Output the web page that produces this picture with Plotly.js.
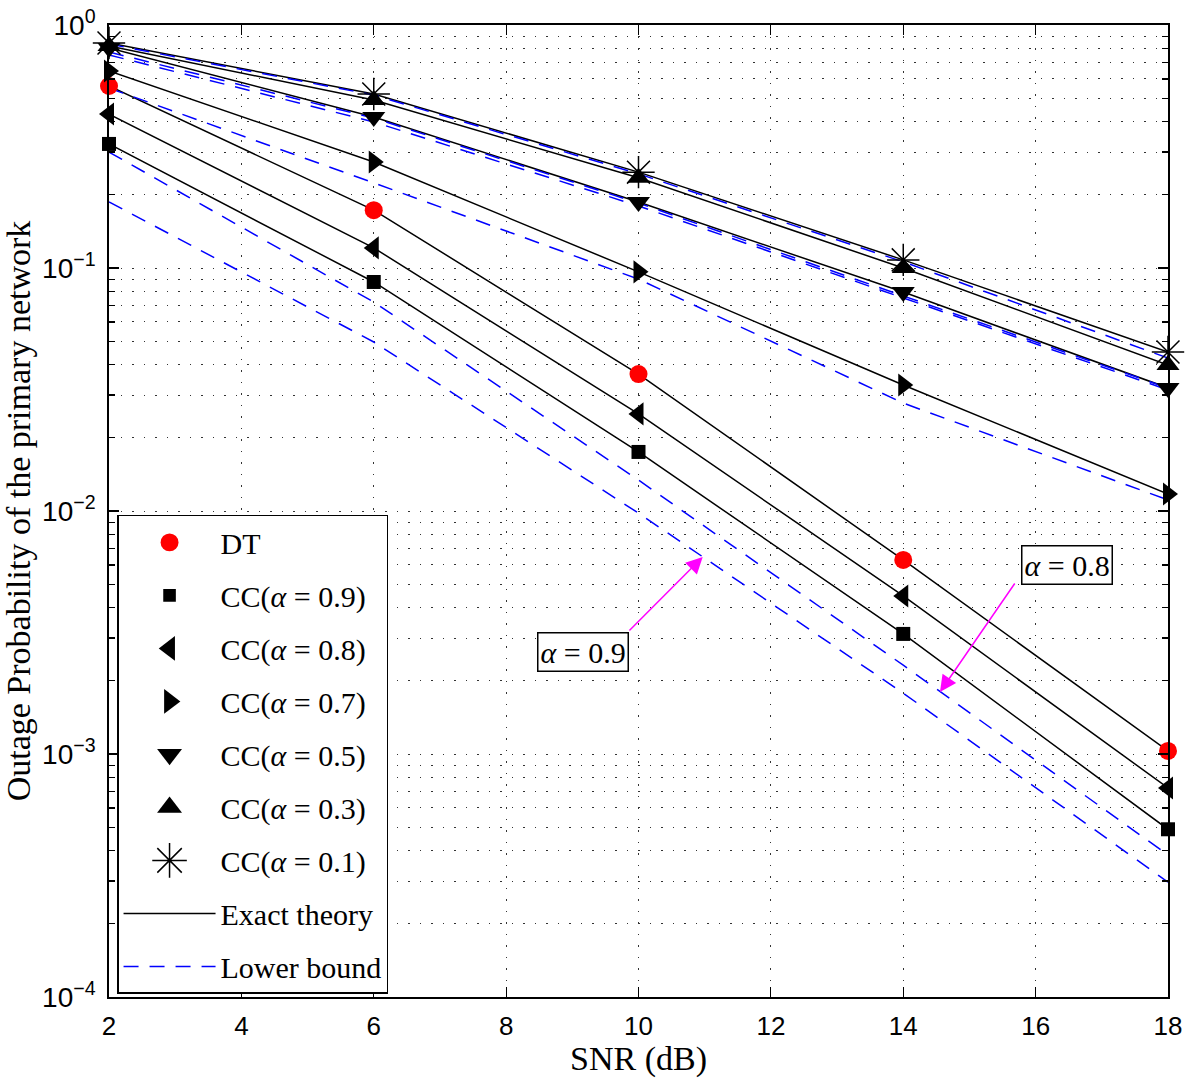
<!DOCTYPE html>
<html>
<head>
<meta charset="utf-8">
<script src="https://cdn.plot.ly/plotly-3.0.1.min.js"></script>
<style>
  html, body { margin: 0; padding: 0; background: #ffffff; }
  #chart { width: 1200px; height: 1078px; }
</style>
</head>
<body>
<div id="chart"></div>
<script>
// ---- data ----
const snr = [2, 6, 10, 14, 18];

// exact theory (markers + solid black lines)
const dt   = [0.561, 0.173, 0.0366, 0.00629, 0.00103];
const cc09 = [0.324, 0.0876, 0.0175, 0.00312, 0.00049];
const cc08 = [0.430, 0.121, 0.0251, 0.00447, 0.000725];
const cc07 = [0.647, 0.273, 0.0964, 0.033, 0.01175];
const cc05 = [0.804, 0.418, 0.187, 0.0796, 0.0321];
const cc03 = [0.820, 0.491, 0.235, 0.100, 0.0399];
const cc01 = [0.843, 0.520, 0.248, 0.108, 0.0451];

// lower bounds (blue dashed)
const lb01 = [0.835, 0.515, 0.244, 0.106, 0.0426];
const lb03 = [0.774, 0.414, 0.185, 0.0767, 0.0321];
const lb05 = [0.753, 0.399, 0.180, 0.0753, 0.0315];
const lb07 = [0.55, 0.224, 0.090, 0.0278, 0.0111];
const lb08 = [0.300, 0.0724, 0.0134, 0.00232, 0.000384];
const lb09 = [0.187, 0.0496, 0.0098, 0.00178, 0.000297];

const seriesNames = ['DT', 'CC(<i>α</i> = 0.9)', 'CC(<i>α</i> = 0.8)', 'CC(<i>α</i> = 0.7)',
                     'CC(<i>α</i> = 0.5)', 'CC(<i>α</i> = 0.3)', 'CC(<i>α</i> = 0.1)'];
const exactLabel = 'Exact theory';
const boundLabel = 'Lower bound';

const yTickVals = [1e-4, 1e-3, 1e-2, 1e-1, 1];
const yTickText = ['10<sup>−4</sup>', '10<sup>−3</sup>', '10<sup>−2</sup>', '10<sup>−1</sup>', '10<sup>0</sup>'];
const xTickVals = [2, 4, 6, 8, 10, 12, 14, 16, 18];

// ---- styles ----
const exactSeries = [dt, cc09, cc08, cc07, cc05, cc03, cc01];
const boundSeries = [lb01, lb03, lb05, lb07, lb08, lb09];
const markerStyles = [
  {symbol: 'circle', size: 18, color: '#ff0000'},
  {symbol: 'square', size: 14, color: '#000000'},
  {symbol: 'triangle-left', size: 20, color: '#000000'},
  {symbol: 'triangle-right', size: 20, color: '#000000'},
  {symbol: 'triangle-down', size: 20, color: '#000000'},
  {symbol: 'triangle-up', size: 20, color: '#000000'},
  {symbol: 'asterisk-open', size: 27, color: '#000000', line: {width: 1.5, color: '#000000'}}
];
// size of each symbol in the legend box (legend markers are capped at 16 by Plotly)
const legendSymbolScale = [1.12, 0.9, 1.35, 1.35, 1.35, 1.35, 1.8];

const traces = [];
exactSeries.forEach((ys, i) => {
  traces.push({
    x: snr, y: ys, type: 'scatter', mode: 'lines',
    line: {color: '#000000', width: 1.5},
    name: exactLabel, legendgroup: 'exact', legendrank: 8,
    showlegend: i === 0, hoverinfo: 'skip'
  });
});
boundSeries.forEach((ys, i) => {
  traces.push({
    x: snr, y: ys, type: 'scatter', mode: 'lines',
    line: {color: '#0000ff', width: 1.5, dash: '15px,11px'},
    name: boundLabel, legendgroup: 'bound', legendrank: 9,
    showlegend: i === 0, hoverinfo: 'skip'
  });
});
exactSeries.forEach((ys, i) => {
  const m = Object.assign({}, markerStyles[i]);
  if (!m.line) m.line = {width: 0};
  traces.push({
    x: snr, y: ys, type: 'scatter', mode: 'markers', cliponaxis: false,
    marker: m, name: seriesNames[i], legendgroup: 'm' + i, legendrank: i + 1,
    showlegend: true
  });
});

const minorVals = [];
for (let e = -4; e < 0; e++) {
  for (let k = 2; k <= 9; k++) minorVals.push(k * Math.pow(10, e));
}

const serif = 'Liberation Serif, Times New Roman, serif';
const sans = 'Liberation Sans, Arial, sans-serif';
const gridDash = '1.5px,10px';

const layout = {
  width: 1200, height: 1078,
  margin: {l: 109, r: 32, t: 25, b: 81},
  paper_bgcolor: '#ffffff', plot_bgcolor: '#ffffff',
  showlegend: true,
  xaxis: {
    range: [2, 18], tickvals: xTickVals, ticks: 'inside', ticklen: 10, tickwidth: 1.2,
    tickcolor: '#000', showline: true, linecolor: '#000', linewidth: 1.8, mirror: 'allticks',
    showgrid: true, gridcolor: '#333', gridwidth: 1, griddash: gridDash, zeroline: false,
    tickfont: {family: sans, size: 26, color: '#000'}, ticklabelstandoff: 5,
    title: {text: 'SNR (dB)', font: {family: serif, size: 34, color: '#000'}, standoff: 2}
  },
  yaxis: {
    type: 'log', range: [-4, 0], tickvals: yTickVals, ticktext: yTickText,
    ticks: 'inside', ticklen: 10, tickwidth: 1.2, tickcolor: '#000',
    showline: true, linecolor: '#000', linewidth: 1.8, mirror: 'allticks',
    showgrid: true, gridcolor: '#333', gridwidth: 1, griddash: gridDash, zeroline: false,
    tickfont: {family: sans, size: 28, color: '#000'}, ticklabelstandoff: 6,
    minor: {tickmode: 'array', tickvals: minorVals, ticks: 'inside', ticklen: 6, tickcolor: '#000',
            showgrid: true, gridcolor: '#333', gridwidth: 1, griddash: gridDash},
    title: {text: 'Outage Probability of the primary network', font: {family: serif, size: 34, color: '#000'}, standoff: 4}
  },
  legend: {
    x: 0.0076, y: 0.496, xanchor: 'left', yanchor: 'top',
    bordercolor: '#000', borderwidth: 1.5, bgcolor: '#ffffff',
    font: {family: serif, size: 30, color: '#000'},
    itemwidth: 92, tracegroupgap: 11, itemsizing: 'trace'
  },
  annotations: [
    {x: 10.97, y: -2.189, ax: 9.84, ay: -2.498, xref: 'x', yref: 'y', axref: 'x', ayref: 'y',
     text: '', showarrow: true, arrowcolor: '#ff00ff', arrowwidth: 1.5, arrowhead: 2, arrowsize: 2.2},
    {x: 14.555, y: -2.745, ax: 15.70, ay: -2.292, xref: 'x', yref: 'y', axref: 'x', ayref: 'y',
     text: '', showarrow: true, arrowcolor: '#ff00ff', arrowwidth: 1.5, arrowhead: 2, arrowsize: 2.2},
    {x: 9.16, y: -2.58, xref: 'x', yref: 'y', text: '<i>α</i> = 0.9', showarrow: false,
     font: {family: serif, size: 30, color: '#000'}, bordercolor: '#000', borderwidth: 1.5,
     bgcolor: '#ffffff', borderpad: 2},
    {x: 16.47, y: -2.222, xref: 'x', yref: 'y', text: '<i>α</i> = 0.8', showarrow: false,
     font: {family: serif, size: 30, color: '#000'}, bordercolor: '#000', borderwidth: 1.5,
     bgcolor: '#ffffff', borderpad: 2}
  ]
};

Plotly.newPlot('chart', traces, layout, {displayModeBar: false, staticPlot: true}).then(function (gd) {
  // enlarge the legend symbols to the reference size
  const plain = seriesNames.map(function (n) { return n.replace(/<[^>]+>/g, '').replace(/\s+/g, ''); });
  gd.querySelectorAll('.legend .traces').forEach(function (item) {
    const txt = item.querySelector('.legendtext');
    if (!txt) return;
    const label = (txt.textContent || '').replace(/\s+/g, '');
    const idx = plain.indexOf(label);
    if (idx < 0) return;
    item.querySelectorAll('.legendpoints path').forEach(function (p) {
      const t = p.getAttribute('transform') || '';
      p.setAttribute('transform', t + ' scale(' + legendSymbolScale[idx] + ')');
      p.style.vectorEffect = 'non-scaling-stroke';
    });
  });
});
</script>
</body>
</html>
